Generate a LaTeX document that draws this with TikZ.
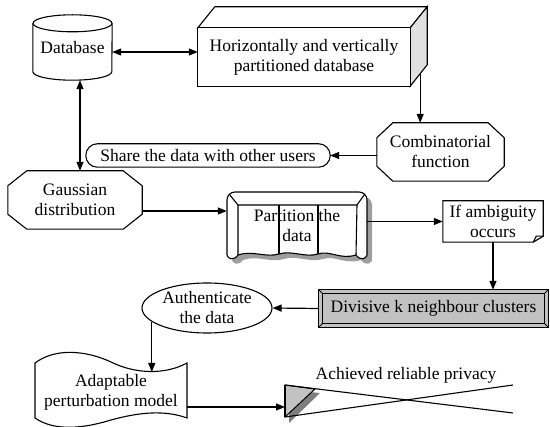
\documentclass[tikz,border=0pt]{standalone}
\usepackage{fontspec}
\setmainfont{Liberation Serif}
\usetikzlibrary{arrows.meta,calc,shapes.geometric}
\pgfdeclarelayer{bg}
\pgfsetlayers{bg,main}
\definecolor{boxgray}{gray}{0.76}
\definecolor{shadegray}{gray}{0.62}
\definecolor{facegray}{gray}{0.88}
\tikzset{
  every node/.style={font=\fontsize{17.5pt}{20pt}\selectfont, inner sep=0pt, align=center},
  outline/.style={line width=1.1pt, line join=miter},
  conn/.style={line width=1.2pt, -{Triangle[length=9pt,width=7pt]}},
  both/.style={line width=1.2pt, {Triangle[length=9pt,width=7pt]}-{Triangle[length=9pt,width=7pt]}},
  octa/.style n args={3}{insert path={
    ([xshift=#2]#1.north west) -- ([xshift=-#2]#1.north east) --
    ([yshift=-#3]#1.north east) -- ([yshift=#3]#1.south east) --
    ([xshift=-#2]#1.south east) -- ([xshift=#2]#1.south west) --
    ([yshift=#3]#1.south west) -- ([yshift=-#3]#1.north west) -- cycle}}
}
\begin{document}
\begin{tikzpicture}[x=1pt,y=-1pt]
\useasboundingbox (0,0) rectangle (550,427);

% ---- nodes (text and names) ----
\node[minimum width=79, minimum height=65] (db) at (72.5,47.5) {Database};
\node[minimum width=212, minimum height=58] (hv) at (304,57) {Horizontally and vertically\\partitioned database};
\node[minimum width=127, minimum height=58] (comb) at (440.5,152) {Combinatorial\\function};
\node[minimum width=244, minimum height=23] (share) at (208,155.5) {Share the data with other users};
\node[minimum width=134, minimum height=58] (gauss) at (75,200) {Gaussian\\distribution};
\node[minimum width=140, minimum height=66] (part) at (297,226) {Partition the\\data};
\node[minimum width=100, minimum height=41] (amb) at (493,221.5) {If ambiguity\\occurs};
\node[minimum width=229, minimum height=37] (div) at (433.5,308.5) {Divisive k neighbour clusters};
\node[ellipse, draw, line width=1.1pt, minimum width=130, minimum height=50] (auth) at (207,308) {Authenticate\\the data};
\node[minimum width=152, minimum height=60] (adapt) at (111,392) {Adaptable\\perturbation model};
\node (ach) at (406,375) {Achieved reliable privacy};
\coordinate (flag) at (285,407);
\coordinate (adtop) at (153,372);
\coordinate (hvr) at ($(hv.south east)+(10,-12)$);

% ---- outlines ----
\begin{pgfonlayer}{bg}
  % database cylinder
  \draw[outline, fill=white] ([yshift=-8.5pt]db.north west) -- ([yshift=8.5pt]db.south west)
     arc[start angle=180, end angle=360, x radius=39.5pt, y radius=8.5pt]
     -- ([yshift=-8.5pt]db.north east);
  \draw[outline] ([yshift=-8.5pt]db.north) ellipse[x radius=39.5pt, y radius=8.5pt];

  % cuboid
  \draw[outline, fill=white] (hv.north west) -- ++(17,-21) -- ($(hv.north east)+(17,-21)$) -- (hv.north east) -- cycle;
  \draw[outline, fill=facegray] (hv.north east) -- ++(17,-21) -- ++(0,58) -- (hv.south east) -- cycle;
  \draw[outline, fill=white] (hv.north west) rectangle (hv.south east);

  % octagons
  \draw[outline, octa={comb}{16pt}{15pt}];
  \draw[outline, octa={gauss}{19pt}{15pt}];

  % rounded terminal
  \draw[outline, rounded corners=11.5pt] (share.north west) rectangle (share.south east);

  % partition block with shadow
  \def\partoutline{(227,252) [rounded corners=8pt] -- (227,192) -- (367,192) [sharp corners] -- (367,252)
     .. controls (368,260) and (360,261) .. (356,255)
     .. controls (340,260) and (330,250) .. (318,254)
     .. controls (305,258) and (292,250) .. (279,254)
     .. controls (266,258) and (252,250) .. (238,255)
     .. controls (234,261) and (226,260) .. (227,252) -- cycle}
  \fill[shadegray, shift={(5,5)}] \partoutline;
  \draw[outline, fill=white] \partoutline;
  \draw[outline] (238,255) -- (238,205) -- (357,205) -- (356,255);
  \draw[outline] (229.5,194.5) -- (238,205) (364.5,194.5) -- (357,205);
  \draw[outline] (279,205) -- (279,254) (318,205) -- (318,254);

  % note with folded corner
  \draw[outline] (amb.north west) -- (amb.north east) -- ([yshift=6pt]amb.south east)
     -- ([xshift=-10pt]amb.south east) -- (amb.south west) -- cycle;
  \draw[outline] ([xshift=-10pt]amb.south east) -- ++(3,-6) -- ([yshift=6pt]amb.south east);

  % bevelled box
  \draw[outline, fill=boxgray] (div.north west) rectangle (div.south east);
  \draw[line width=0.8pt] ([shift={(4pt,-4pt)}]div.north west) rectangle ([shift={(-4pt,4pt)}]div.south east);
  \draw[line width=0.8pt] (div.north west) -- ([shift={(4pt,-4pt)}]div.north west)
     (div.north east) -- ([shift={(-4pt,-4pt)}]div.north east)
     (div.south west) -- ([shift={(4pt,4pt)}]div.south west)
     (div.south east) -- ([shift={(-4pt,4pt)}]div.south east);

  % wavy tape
  \draw[outline, fill=white] (35,363) .. controls (55,348) and (85,350) .. (111,362)
     .. controls (135,374) and (165,375) .. (187,363) -- (187,418)
     .. controls (165,410) and (140,412) .. (111,420)
     .. controls (85,428) and (55,432) .. (35,418) -- cycle;

  % crossed-lines glyph
  \fill[shadegray!80!black] (289,390) -- (320,393) -- (289,423) -- cycle;
  \draw[line width=1pt, fill=boxgray] (285,385) -- (315,389) -- (285,417) -- cycle;
  \draw[outline] (285,385) -- (285,417);
  \draw[outline] (285,385) -- (513,413);
  \draw[outline] (285,417) -- (513,385);
\end{pgfonlayer}

% ---- connectors ----
\draw[both] ([yshift=-4.5pt]db.east) -- ([yshift=-4.5pt]db.east -| hv.west);
\draw[conn] (hvr) -- (hvr |- comb.north);
\draw[conn] (share.east -| comb.west) -- (share.east);
\draw[both] ([xshift=7.5pt]db.south) -- ([xshift=7.5pt]db.south |- gauss.north);
\draw[conn] ([yshift=-11pt]gauss.east) -- ([yshift=-11pt]gauss.east -| part.west);
\draw[conn] (amb.west -| part.east) -- (amb.west);
\draw[conn] (amb.south) -- (amb.south |- div.north);
\draw[conn] (div.west) -- (auth.east);
\draw[conn] (auth.194.5) -- (auth.194.5 |- adtop);
\draw[conn] ([yshift=-15pt]adapt.east) -- (flag);
\end{tikzpicture}
\end{document}
